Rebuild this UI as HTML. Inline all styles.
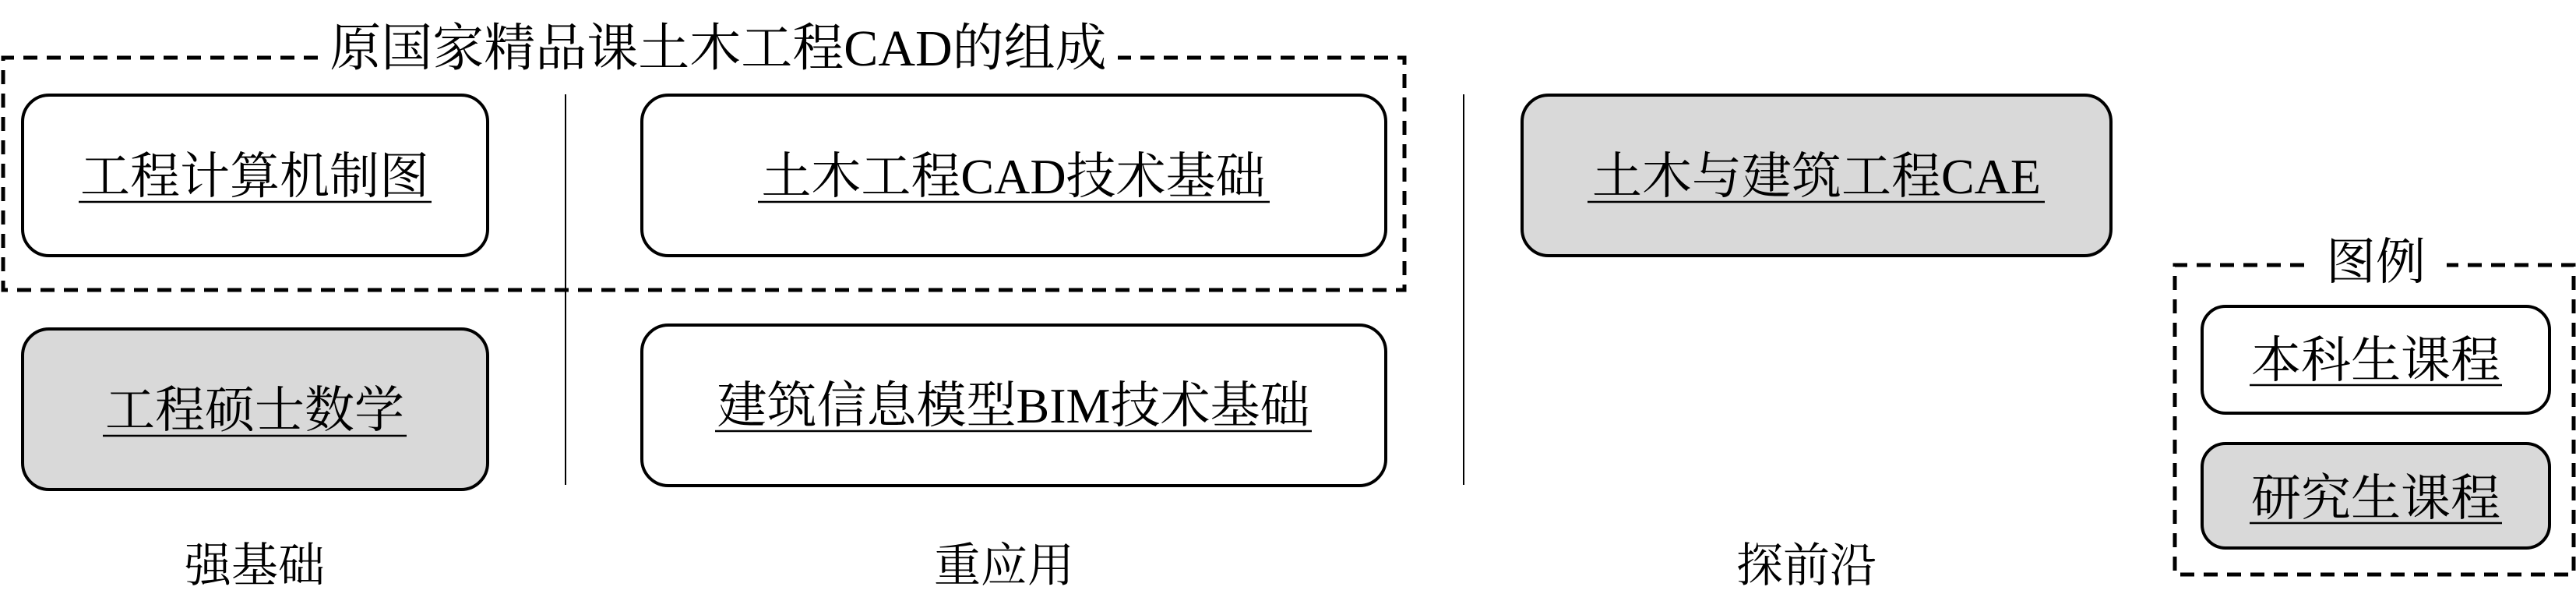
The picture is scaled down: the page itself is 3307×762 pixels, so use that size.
<!DOCTYPE html>
<html><head><meta charset="utf-8"><style>
html,body{margin:0;padding:0;background:#fff;width:3307px;height:762px;overflow:hidden}
text{font-family:"Liberation Serif","Noto Serif CJK SC","Noto Sans CJK SC",serif;fill:#000}
</style></head><body>
<svg width="3307" height="762" viewBox="0 0 3307 762" xmlns="http://www.w3.org/2000/svg">
<g fill="none" stroke="#000" stroke-width="5" stroke-dasharray="18 12">
<path d="M408 74 H4 V372 H1803 V74 H1435"/>
<path d="M2958 340 H2792 V737 H3304 V340 H3141"/>
</g>
<line x1="726" y1="121" x2="726" y2="622" stroke="#000" stroke-width="2"/>
<line x1="1879" y1="121" x2="1879" y2="622" stroke="#000" stroke-width="2"/>
<g stroke="#000" stroke-width="4">
<rect x="29" y="122" width="597" height="206" rx="34" fill="#fff"/>
<rect x="824" y="122" width="955" height="206" rx="34" fill="#fff"/>
<rect x="29" y="422" width="597" height="206" rx="34" fill="#d9d9d9"/>
<rect x="824" y="417" width="955" height="206" rx="34" fill="#fff"/>
<rect x="1954" y="122" width="756" height="206" rx="34" fill="#d9d9d9"/>
<rect x="2827" y="393" width="446" height="137" rx="30" fill="#fff"/>
<rect x="2827" y="569" width="446" height="134" rx="30" fill="#d9d9d9"/>
</g>
<g stroke="#000" stroke-width="2.5">
<line x1="101" y1="259" x2="554" y2="259"/>
<line x1="973" y1="259" x2="1630" y2="259"/>
<line x1="2038" y1="259" x2="2625" y2="259"/>
<line x1="132" y1="559" x2="522" y2="559"/>
<line x1="918" y1="553" x2="1684" y2="553"/>
<line x1="2888" y1="494" x2="3212" y2="494"/>
<line x1="2888" y1="671" x2="3212" y2="671"/>
</g>
<g text-anchor="middle" font-size="64">
<text x="922" y="84" font-size="66">原国家精品课土木工程CAD的组成</text>
<text x="327" y="248">工程计算机制图</text>
<text x="1301" y="248">土木工程CAD技术基础</text>
<text x="2332" y="248">土木与建筑工程CAE</text>
<text x="327" y="548">工程硕士数学</text>
<text x="1301" y="542">建筑信息模型BIM技术基础</text>
<text x="3050" y="484">本科生课程</text>
<text x="3050" y="661">研究生课程</text>
<text x="3050" y="358">图例</text>
<text x="327" y="746" font-size="60">强基础</text>
<text x="1289" y="746" font-size="60">重应用</text>
<text x="2319" y="746" font-size="60">探前沿</text>
</g>
</svg>
</body></html>
